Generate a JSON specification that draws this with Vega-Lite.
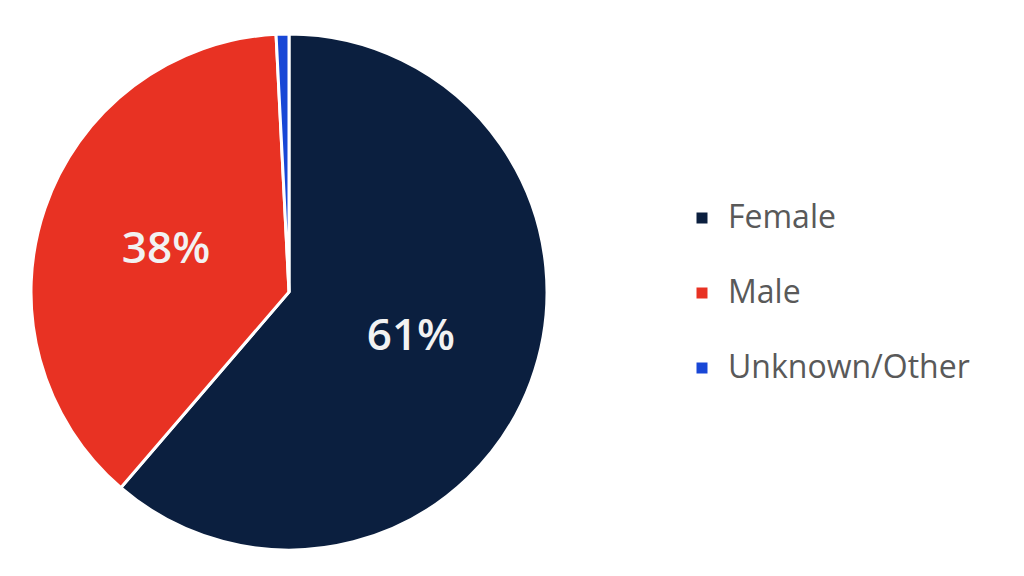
{
  "$schema": "https://vega.github.io/schema/vega-lite/v6.json",
  "width": 578,
  "height": 576,
  "autosize": "none",
  "padding": {"left": 0, "top": 4, "right": 446, "bottom": -4},
  "background": "white",
  "data": {
    "values": [
      {"Gender": "Female", "idx": 1, "pct": 0.613},
      {"Gender": "Male", "idx": 2, "pct": 0.379},
      {"Gender": "Unknown/Other", "idx": 3, "pct": 0.008}
    ]
  },
  "encoding": {
    "theta": {"field": "pct", "type": "quantitative", "stack": true},
    "order": {"field": "idx", "type": "quantitative"}
  },
  "layer": [
    {
      "mark": {"type": "arc", "outerRadius": 258, "stroke": "white", "strokeWidth": 3},
      "encoding": {
        "color": {
          "field": "Gender",
          "type": "nominal",
          "sort": ["Female", "Male", "Unknown/Other"],
          "scale": {
            "domain": ["Female", "Male", "Unknown/Other"],
            "range": ["#0b1f3f", "#e83223", "#1847d6"]
          },
          "legend": {
            "title": null,
            "orient": "none",
            "legendX": 686,
            "legendY": 198,
            "symbolType": "square",
            "symbolSize": 121,
            "symbolStrokeWidth": 0,
            "labelFont": "Open Sans",
            "labelFontSize": 32,
            "labelColor": "#595959",
            "labelOffset": 10,
            "rowPadding": 43,
            "labelLimit": 400
          }
        }
      }
    },
    {
      "mark": {
        "type": "text",
        "radius": 130,
        "font": "Open Sans",
        "fontSize": 44,
        "fontWeight": 600,
        "color": "#f2f2f2",
        "align": "center",
        "baseline": "middle"
      },
      "encoding": {
        "text": {
          "condition": {"test": "datum.pct < 0.05", "value": ""},
          "field": "pct",
          "type": "quantitative",
          "format": ".0%"
        }
      }
    }
  ]
}
